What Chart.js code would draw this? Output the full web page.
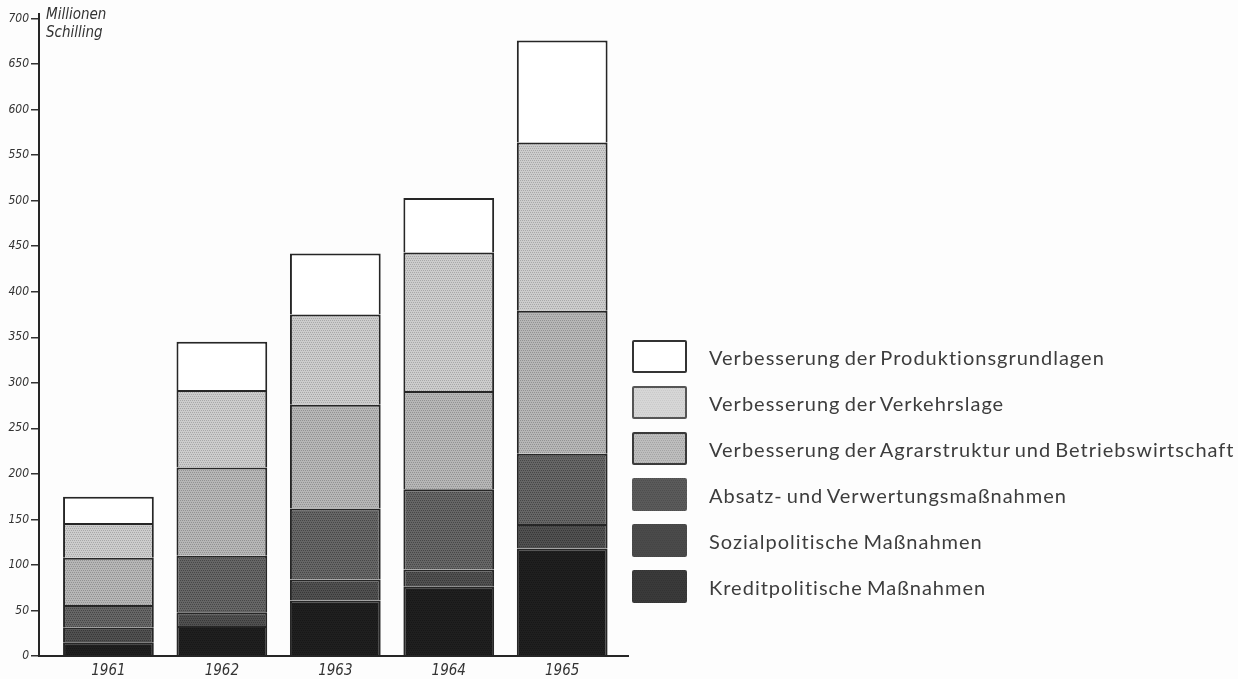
<!DOCTYPE html>
<html>
<head>
<meta charset="utf-8">
<script src="https://cdn.jsdelivr.net/npm/chart.js@4.4.1/dist/chart.umd.min.js"></script>
<style>
    html, body { margin: 0; padding: 0; background: #fdfdfd; }
    #wrap { position: relative; width: 1238px; height: 679px; overflow: hidden; }
    #chartBox { position: absolute; left: 0; top: 0; width: 640px; height: 679px; }
    #legend { position: absolute; left: 632px; top: 340px; font-family: Lato, 'Open Sans', sans-serif; font-size: 20px; color: #3d3d3d; letter-spacing: 1px; word-spacing: -2px; }
    .legend-item { display: flex; align-items: center; height: 33px; margin-bottom: 13px; white-space: nowrap; }
    .legend-box { width: 55px; height: 33px; box-sizing: border-box; margin-right: 22px; border-radius: 2px; background-size: 4px 4px; flex: none; }
</style>
</head>
<body>
<div id="wrap">
    <div id="chartBox"><canvas id="investChart"></canvas></div>
    <div id="legend"></div>
</div>
<script>
// Data (Millionen Schilling), bottom segment first
const years = [1961, 1962, 1963, 1964, 1965];
const seriesNames = [
    'Kreditpolitische Maßnahmen',
    'Sozialpolitische Maßnahmen',
    'Absatz- und Verwertungsmaßnahmen',
    'Verbesserung der Agrarstruktur und Betriebswirtschaft',
    'Verbesserung der Verkehrslage',
    'Verbesserung der Produktionsgrundlagen'
];
const kredit = [15, 33, 61, 76, 118];
const sozial = [16, 15, 23, 19, 27];
const absatz = [25, 62, 78, 88, 77];
const agrar = [52, 97, 114, 108, 157];
const verkehr = [38, 85, 99, 152, 185];
const produktion = [29, 53, 67, 60, 112];
const yTicks = [0, 50, 100, 150, 200, 250, 300, 350, 400, 450, 500, 550, 600, 650, 700];

// halftone-ish fill, like the printed screen
function halftone(base, dot) {
    const c = document.createElement('canvas');
    c.width = 4; c.height = 4;
    const g = c.getContext('2d');
    g.fillStyle = base;
    g.fillRect(0, 0, 4, 4);
    g.fillStyle = dot;
    [[0, 0], [2, 0], [1, 2], [3, 2]].forEach(p => g.fillRect(p[0], p[1], 1, 1));
    return c;
}

const fillCanvases = [
    halftone('#1f1f1f', '#171717'),
    halftone('#505050', '#383838'),
    halftone('#666666', '#474747'),
    halftone('#b6b6b6', '#929292'),
    halftone('#cccccc', '#a8a8a8'),
    halftone('#ffffff', '#ffffff')
];
const legendFills = [
    halftone('#3a3a3a', '#333333'),
    halftone('#4a4a4a', '#444444'),
    halftone('#5a5a5a', '#4e4e4e'),
    halftone('#bdbdbd', '#a4a4a4'),
    halftone('#d6d6d6', '#cacaca'),
    halftone('#ffffff', '#ffffff')
];
const legendBorders = ['none', 'none', 'none', '2px solid #3a3a3a', '2px solid #555', '2px solid #333'];

const ctx = document.getElementById('investChart').getContext('2d');
const values = [kredit, sozial, absatz, agrar, verkehr, produktion];

const datasets = values.map((vals, i) => ({
    label: seriesNames[i],
    data: vals.map((v, j) => ({ x: years[j], y: v })),
    backgroundColor: ctx.createPattern(fillCanvases[i], 'repeat'),
    borderColor: '#262626',
    borderWidth: { top: 2, left: 2, right: 2, bottom: 0 },
    borderSkipped: false,
    categoryPercentage: 1,
    barPercentage: 0.8
}));

const narrowFamily = "'Liberation Sans Narrow', 'DejaVu Sans Condensed', sans-serif";

const unitTitle = {
    id: 'unitTitle',
    afterDraw(chart) {
        const c = chart.ctx;
        c.save();
        c.font = 'italic 15px ' + narrowFamily;
        c.fillStyle = '#333';
        c.textBaseline = 'middle';
        c.fillText('Millionen', 46, 15);
        c.fillText('Schilling', 46, 33);
        c.restore();
    }
};

new Chart(ctx, {
    type: 'bar',
    data: { datasets: datasets },
    options: {
        responsive: true,
        maintainAspectRatio: false,
        animation: false,
        layout: { padding: { top: 14, right: 12, left: 0, bottom: 0 } },
        plugins: {
            legend: { display: false },
            tooltip: { enabled: false }
        },
        scales: {
            x: {
                type: 'linear',
                stacked: true,
                offset: false,
                min: 1960.388,
                max: 1965.58,
                afterBuildTicks: axis => { axis.ticks = years.map(v => ({ value: v })); },
                afterFit: scale => { scale.height = 23; },
                grid: { display: false, drawTicks: false },
                border: { display: true, color: '#262626', width: 2 },
                ticks: { color: '#333', font: { family: narrowFamily, size: 15, style: 'italic' }, padding: 6, maxRotation: 0, callback: v => String(v) }
            },
            y: {
                stacked: true,
                min: 0,
                max: 705,
                afterBuildTicks: axis => { axis.ticks = yTicks.map(v => ({ value: v })); },
                afterFit: scale => { scale.width = 39; },
                grid: { display: true, drawOnChartArea: false, drawTicks: true, tickLength: 8, color: '#333', lineWidth: 1.5 },
                border: { display: true, color: '#262626', width: 2 },
                ticks: { color: '#333', font: { family: narrowFamily, size: 12, style: 'italic' }, padding: 2 }
            }
        }
    },
    plugins: [unitTitle]
});

// Custom legend, top entry = top segment
function generateLegend() {
    const legend = document.getElementById('legend');
    legend.innerHTML = '';
    for (let i = seriesNames.length - 1; i >= 0; i--) {
        const item = document.createElement('div');
        item.className = 'legend-item';
        const box = document.createElement('span');
        box.className = 'legend-box';
        box.style.backgroundImage = 'url(' + legendFills[i].toDataURL() + ')';
        box.style.border = legendBorders[i];
        const text = document.createElement('span');
        text.textContent = seriesNames[i];
        item.appendChild(box);
        item.appendChild(text);
        legend.appendChild(item);
    }
}
generateLegend();
</script>
</body>
</html>
